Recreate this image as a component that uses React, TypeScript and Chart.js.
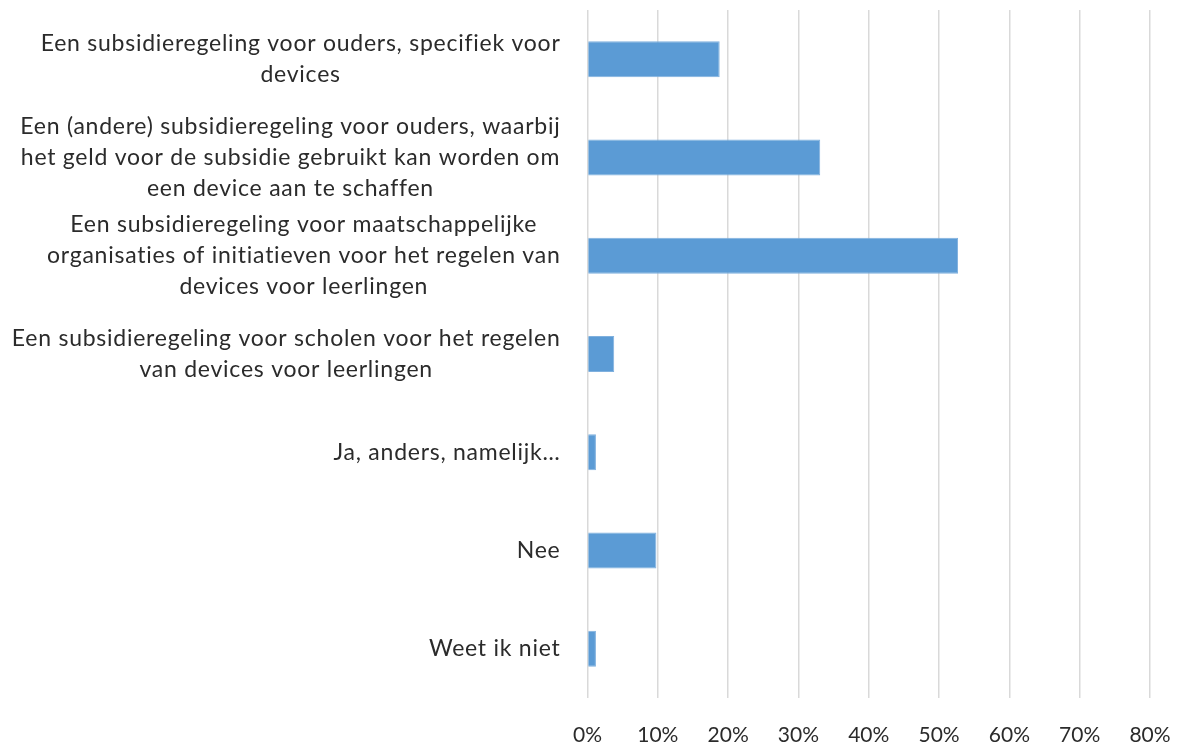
import React, { useEffect, useRef } from "react";
import { Chart, registerables } from "chart.js";

Chart.register(...registerables);

const categories: string[][] = [
  ["Een subsidieregeling voor ouders, specifiek voor", "devices"],
  [
    "Een (andere) subsidieregeling voor ouders, waarbij",
    "het geld voor de subsidie gebruikt kan worden om",
    "een device aan te schaffen",
  ],
  [
    "Een subsidieregeling voor maatschappelijke",
    "organisaties of initiatieven voor het regelen van",
    "devices voor leerlingen",
  ],
  ["Een subsidieregeling voor scholen voor het regelen", "van devices voor leerlingen"],
  ["Ja, anders, namelijk…"],
  ["Nee"],
  ["Weet ik niet"],
];

const values: number[] = [18.8, 33.1, 52.7, 3.8, 1.2, 9.8, 1.2];

const xTicks: number[] = [0, 10, 20, 30, 40, 50, 60, 70, 80];

const FONT = "Lato, 'Open Sans', sans-serif";

const labelPlugin = {
  id: "blockLabels",
  afterDraw(chart: any) {
    const { ctx, chartArea } = chart;
    const yScale = chart.scales.y;
    const right = chartArea.left - 27;
    const lineHeight = 31;
    ctx.save();
    ctx.font = `23px ${FONT}`;
    (ctx as any).letterSpacing = "0.75px";
    ctx.fillStyle = "#2b2b2b";
    ctx.textAlign = "center";
    ctx.textBaseline = "middle";
    categories.forEach((lines, i) => {
      const y = yScale.getPixelForValue(i);
      let w = 0;
      lines.forEach((l) => {
        w = Math.max(w, ctx.measureText(l).width);
      });
      const cx = right - w / 2;
      lines.forEach((l, j) => {
        const ly = y + (j - (lines.length - 1) / 2) * lineHeight;
        ctx.fillText(l, cx, ly);
      });
    });
    ctx.restore();
  },
};

export default function App() {
  const ref = useRef<HTMLCanvasElement | null>(null);
  useEffect(() => {
    if (!ref.current) return;
    const chart = new Chart(ref.current, {
      type: "bar",
      data: {
        labels: categories.map((c) => c.join(" ")),
        datasets: [
          {
            data: values,
            backgroundColor: "#5b9bd5",
            borderColor: "#7fb0de",
            borderWidth: 1,
            barPercentage: 0.366,
            categoryPercentage: 1,
          },
        ],
      },
      options: {
        indexAxis: "y",
        animation: false,
        responsive: false,
        maintainAspectRatio: false,
        layout: { padding: { top: 10, right: 30, left: 0, bottom: 0 } },
        plugins: { legend: { display: false }, tooltip: { enabled: false } },
        scales: {
          x: {
            min: 0,
            max: 80,
            afterBuildTicks: (scale: any) => {
              scale.ticks = xTicks.map((v) => ({ value: v }));
            },
            afterFit: (scale: any) => {
              scale.height = 44;
              scale.paddingLeft = 0;
              scale.paddingRight = 0;
            },
            grid: { color: "#d9d9d9", lineWidth: 1.5, drawTicks: false },
            border: { display: false },
            ticks: {
              padding: 25,
              color: "#2b2b2b",
              font: { family: FONT, size: 21 },
              callback: (v: any) => `${v}%`,
            },
          },
          y: {
            afterFit: (scale: any) => {
              scale.width = 587.5;
            },
            grid: { display: false },
            border: { display: false },
            ticks: { display: false },
          },
        },
      },
      plugins: [labelPlugin],
    });
    return () => chart.destroy();
  }, []);
  return (
    <div style={{ position: "fixed", left: 0, top: 0, width: 1180, height: 742, background: "#fff" }}>
      <canvas ref={ref} width={1180} height={742} style={{ width: 1180, height: 742 }} />
    </div>
  );
}
